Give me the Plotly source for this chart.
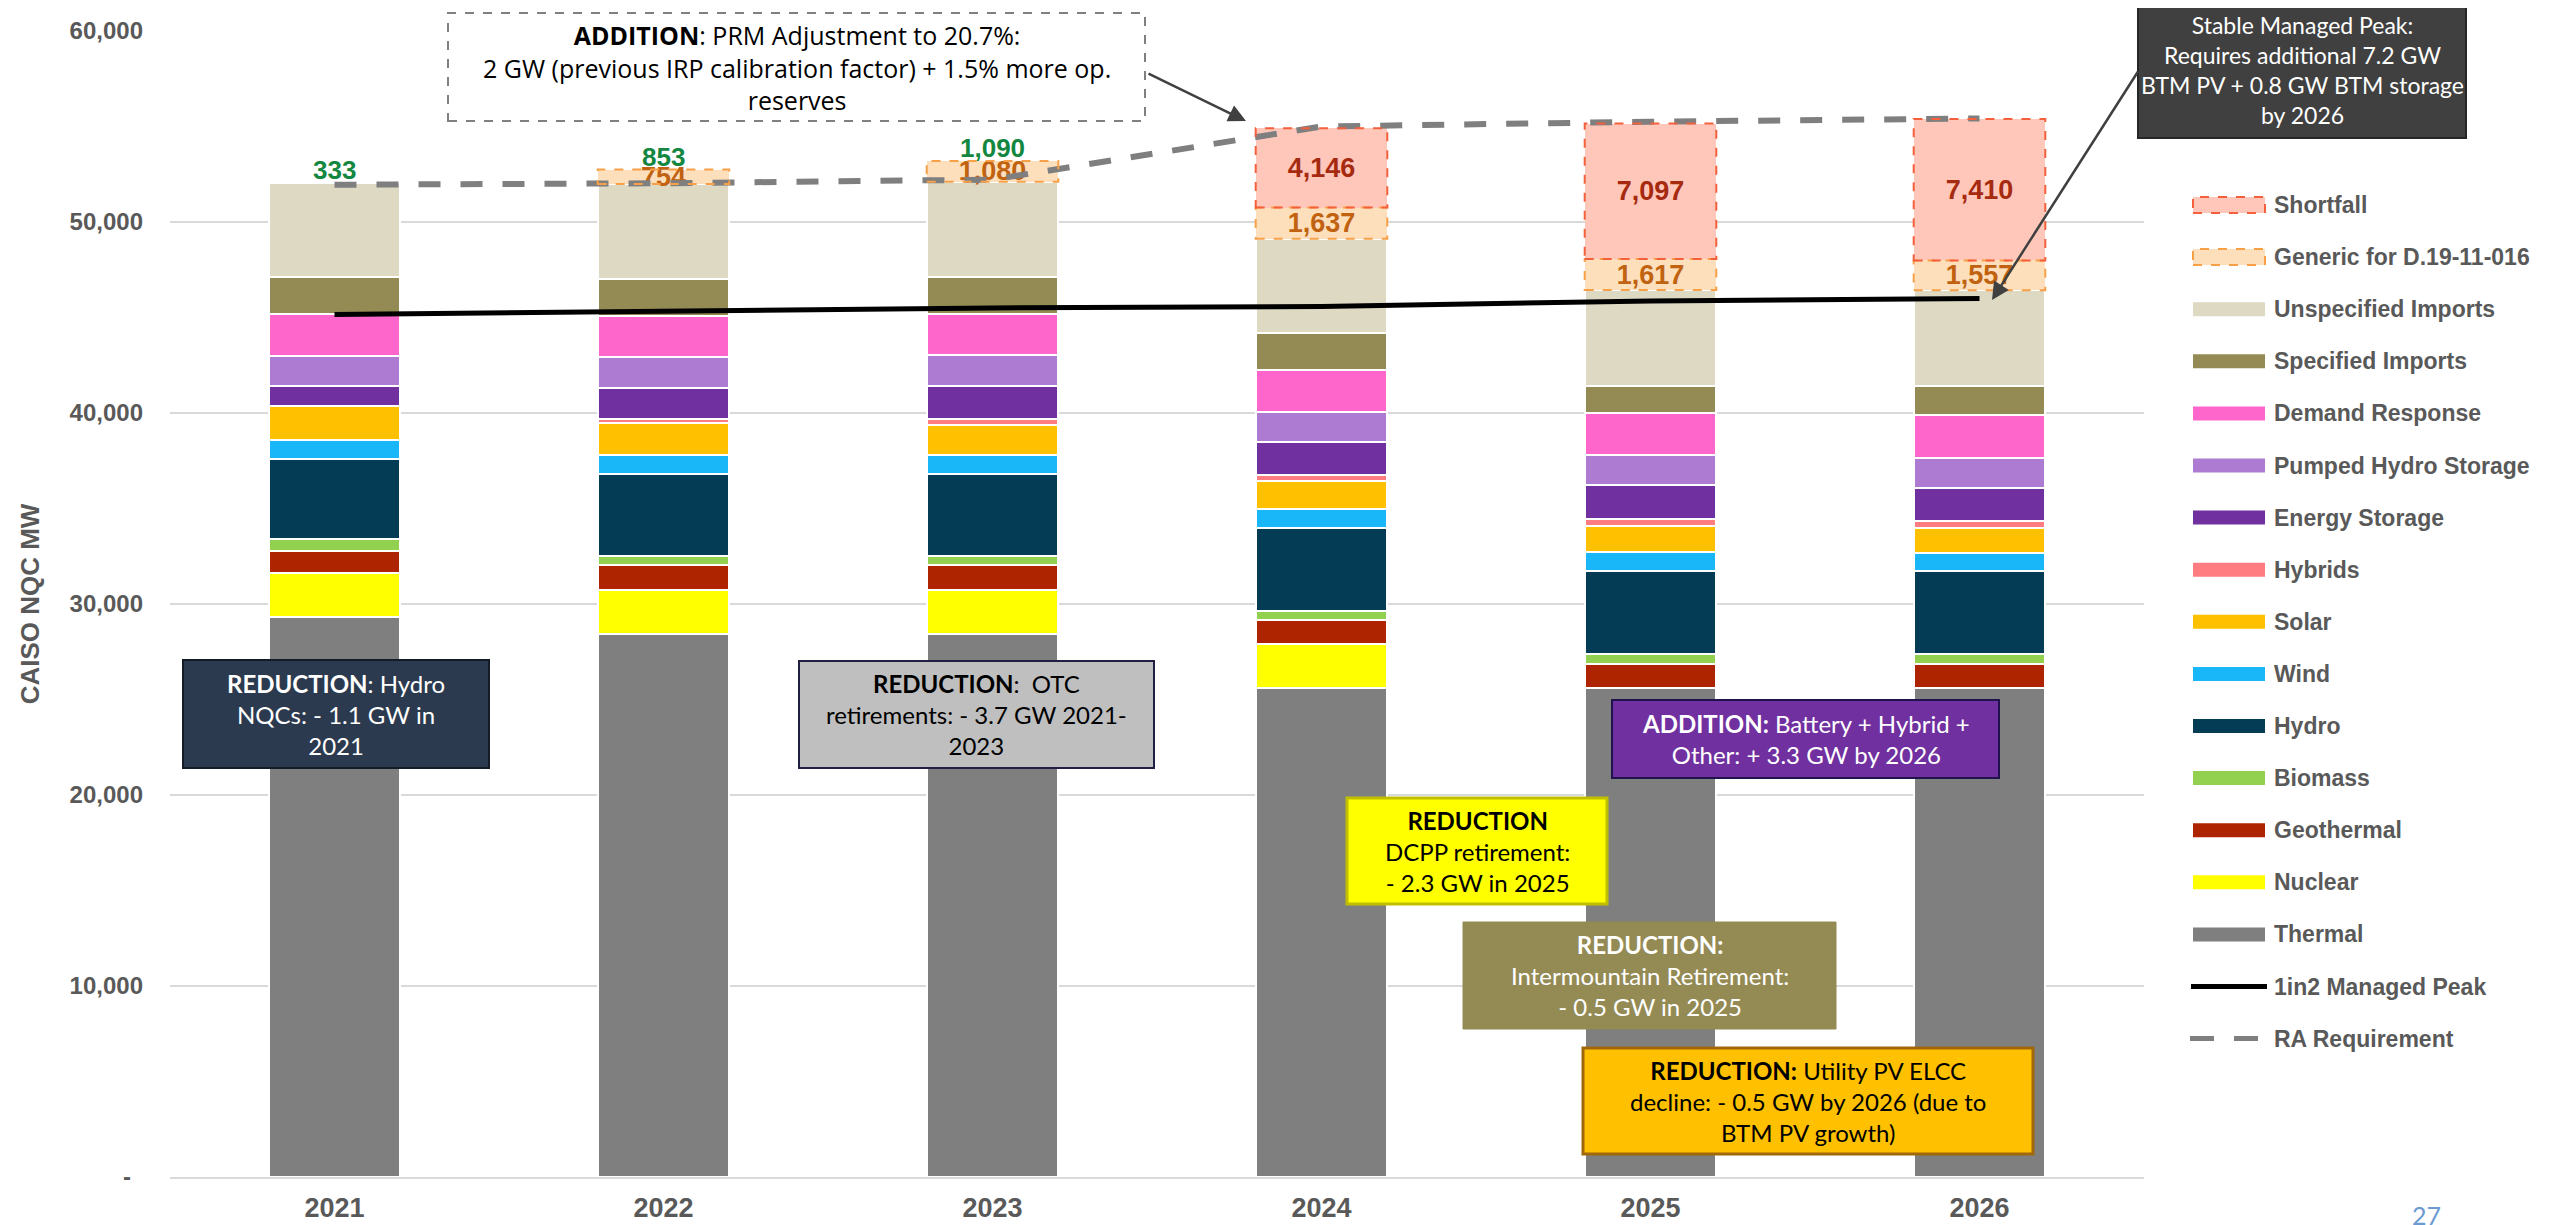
import plotly.graph_objects as go

# ---------------- data (MW) ----------------
years = ["2021", "2022", "2023", "2024", "2025", "2026"]
thermal = [29330, 28440, 28440, 25590, 25590, 25590]
nuclear = [2310, 2290, 2290, 2300, 0, 0]
geothermal = [1150, 1290, 1290, 1280, 1250, 1250]
biomass = [600, 510, 510, 480, 550, 550]
hydro = [4180, 4280, 4280, 4330, 4330, 4330]
wind = [1030, 980, 980, 1000, 1000, 950]
solar = [1750, 1680, 1590, 1450, 1380, 1300]
hybrids = [0, 200, 300, 300, 370, 370]
energy_storage = [1080, 1660, 1750, 1750, 1750, 1750]
pumped_hydro_storage = [1560, 1590, 1610, 1580, 1580, 1580]
demand_response = [2170, 2150, 2130, 2180, 2180, 2250]
specified_imports = [1960, 1940, 1960, 1950, 1450, 1500]
unspecified_imports = [4930, 4980, 4980, 4930, 5010, 5010]
generic_d19 = [0, 754, 1080, 1637, 1617, 1557]
shortfall = [0, 0, 0, 4146, 7097, 7410]
managed_peak_1in2 = [45160, 45330, 45500, 45570, 45870, 45990]
ra_requirement = [51950, 52030, 52220, 55000, 55250, 55420]
green_labels = [333, 853, 1090, None, None, None]

y_tick_values = [0, 10000, 20000, 30000, 40000, 50000, 60000]
y_tick_labels = ["-\u2002", "10,000", "20,000", "30,000", "40,000", "50,000", "60,000"]

stack_names = ["Thermal", "Nuclear", "Geothermal", "Biomass", "Hydro", "Wind", "Solar",
               "Hybrids", "Energy Storage", "Pumped Hydro Storage", "Demand Response",
               "Specified Imports", "Unspecified Imports"]
stack_values = [thermal, nuclear, geothermal, biomass, hydro, wind, solar, hybrids,
                energy_storage, pumped_hydro_storage, demand_response,
                specified_imports, unspecified_imports]
legend_order = ["Shortfall", "Generic for D.19-11-016", "Unspecified Imports",
                "Specified Imports", "Demand Response", "Pumped Hydro Storage",
                "Energy Storage", "Hybrids", "Solar", "Wind", "Hydro", "Biomass",
                "Geothermal", "Nuclear", "Thermal", "1in2 Managed Peak", "RA Requirement"]

# ---------------- styles ----------------
colors = {
    "Thermal": "#7F7F7F", "Nuclear": "#FFFF00", "Geothermal": "#AE2300",
    "Biomass": "#92D050", "Hydro": "#043B55", "Wind": "#19B7F7", "Solar": "#FFC000",
    "Hybrids": "#FF7C80", "Energy Storage": "#7030A0", "Pumped Hydro Storage": "#AD7CD2",
    "Demand Response": "#FF66CC", "Specified Imports": "#948A54",
    "Unspecified Imports": "#DDD9C3",
    "Generic for D.19-11-016": "#FDDFBC", "Shortfall": "#FFC7BA",
}
outline = {"Generic for D.19-11-016": "#F7A048", "Shortfall": "#F4603C"}
label_color = {"Generic for D.19-11-016": "#C0620F", "Shortfall": "#A52A10"}

W, H = 2560, 1225
L, R, T, B = 162, 424, 23, 56
PW, PH = W - L - R, H - T - B
BARGAP = 0.6
AXFONT = "Liberation Sans, Arial, sans-serif"
NARROW = "Liberation Sans Narrow, Arial Narrow, Liberation Sans, sans-serif"
BOXFONT = "Lato, Noto Sans, sans-serif"


def pxx(x):
    return (x - L) / PW


def pyy(y):
    return (T + PH - y) / PH


fig = go.Figure()

for name, vals in zip(stack_names, stack_values):
    fig.add_trace(go.Bar(x=years, y=vals, name=name, showlegend=False,
                         marker=dict(color=colors[name], line=dict(color="white", width=2))))

totals = [sum(v[i] for v in stack_values) for i in range(len(years))]

for name, vals in [("Generic for D.19-11-016", generic_d19), ("Shortfall", shortfall)]:
    fig.add_trace(go.Bar(
        x=years, y=vals, name=name, showlegend=False,
        marker=dict(color=colors[name], line=dict(width=0)),
        text=[f"{v:,}" if v else "" for v in vals], textposition="inside",
        insidetextanchor="middle", textangle=0,
        textfont=dict(family=NARROW, size=27, color=label_color[name], weight="bold")))

fig.add_trace(go.Scatter(x=years, y=managed_peak_1in2, name="1in2 Managed Peak", mode="lines",
                         showlegend=False, line=dict(color="black", width=5)))
fig.add_trace(go.Scatter(x=years, y=ra_requirement, name="RA Requirement", mode="lines",
                         showlegend=False,
                         line=dict(color="#7F7F7F", width=6, dash="22px,20px")))

shapes = []
annotations = []

# dashed outlines around the generic / shortfall segments (derived from data)
bw = 1 - BARGAP
for i in range(len(years)):
    base = totals[i]
    for name, vals in [("Generic for D.19-11-016", generic_d19), ("Shortfall", shortfall)]:
        v = vals[i]
        if v:
            shapes.append(dict(type="rect", xref="x", yref="y", x0=i - bw / 2, x1=i + bw / 2,
                               y0=base, y1=base + v, line=dict(color=outline[name], width=2, dash="dash"),
                               fillcolor="rgba(0,0,0,0)", layer="above"))
        base += v

# green labels on top of the stacks
for i, g in enumerate(green_labels):
    if g is not None:
        top = totals[i] + generic_d19[i] + shortfall[i]
        annotations.append(dict(x=i, y=top, xref="x", yref="y", text=f"<b>{g:,}</b>",
                                showarrow=False, yshift=13,
                                font=dict(family=NARROW, size=26, color="#13873F")))


def box(x0, y0, x1, y1, fill, border, bwid, txt, tcolor, size=24, dash=None, family=BOXFONT):
    shapes.append(dict(type="rect", xref="paper", yref="paper", x0=pxx(x0), x1=pxx(x1),
                       y0=pyy(y1), y1=pyy(y0), fillcolor=fill,
                       line=dict(color=border, width=bwid, dash=dash), layer="above"))
    annotations.append(dict(x=pxx((x0 + x1) / 2), y=pyy((y0 + y1) / 2), xref="paper", yref="paper",
                            xanchor="center", yanchor="middle", showarrow=False, align="center",
                            text=txt, font=dict(family=family, size=size, color=tcolor)))


box(440, 5, 1137, 113, "white", "#808080", 2,
    "<b>ADDITION</b>: PRM Adjustment to 20.7%:<br>2 GW (previous IRP calibration factor) + 1.5% more op.<br>reserves",
    "black", size=25, dash="dash", family="Open Sans, Lato, sans-serif")
box(2130, -5, 2458, 130, "#404040", "#262626", 2,
    "Stable Managed Peak:<br>Requires additional 7.2 GW<br>BTM PV + 0.8 GW BTM storage<br>by 2026",
    "white", size=23)
box(175, 652, 481, 760, "#2B3A4F", "#141C28", 2,
    "<b>REDUCTION</b>: Hydro<br>NQCs: - 1.1 GW in<br>2021", "white")
box(791, 653, 1146, 760, "#BFBFBF", "#1F2041", 2,
    "<b>REDUCTION</b>:  OTC<br>retirements: - 3.7 GW 2021-<br>2023", "black")
box(1339, 790, 1599, 896, "#FFFF00", "#BFBF00", 3,
    "<b>REDUCTION</b><br>DCPP retirement:<br>- 2.3 GW in 2025", "black")
box(1604, 692, 1991, 770, "#7030A0", "#20124D", 2,
    "<b>ADDITION:</b> Battery + Hybrid +<br>Other: + 3.3 GW by 2026", "white")
box(1455, 914, 1828, 1021, "#948A54", "#948A54", 1,
    "<b>REDUCTION:</b><br>Intermountain Retirement:<br>- 0.5 GW in 2025", "white")
box(1575, 1040, 2025, 1146, "#FFC000", "#A0680A", 3,
    "<b>REDUCTION:</b> Utility PV ELCC<br>decline: - 0.5 GW by 2026 (due to<br>BTM PV growth)", "black")

# arrows
for (hx, hy, tx, ty) in [(1238, 113, 1139, 65), (1984, 292, 2131, 62)]:
    annotations.append(dict(x=pxx(hx), y=pyy(hy), xref="paper", yref="paper", text="",
                            showarrow=True, ax=tx - hx, ay=ty - hy, arrowhead=2, arrowsize=1.4,
                            arrowwidth=2.5, arrowcolor="#404040", standoff=0))

# custom legend
for i, name in enumerate(legend_order):
    yc = 197 + 52.1 * i
    if name in ("Shortfall", "Generic for D.19-11-016"):
        shapes.append(dict(type="rect", xref="paper", yref="paper", x0=pxx(2185), x1=pxx(2257),
                           y0=pyy(yc + 8), y1=pyy(yc - 8), fillcolor=colors[name],
                           line=dict(color=outline[name], width=2, dash="dash")))
    elif name == "1in2 Managed Peak":
        shapes.append(dict(type="line", xref="paper", yref="paper", x0=pxx(2183), x1=pxx(2259),
                           y0=pyy(yc), y1=pyy(yc), line=dict(color="black", width=5)))
    elif name == "RA Requirement":
        shapes.append(dict(type="line", xref="paper", yref="paper", x0=pxx(2182), x1=pxx(2252),
                           y0=pyy(yc), y1=pyy(yc), line=dict(color="#7F7F7F", width=5, dash="24px,20px")))
    else:
        shapes.append(dict(type="rect", xref="paper", yref="paper", x0=pxx(2185), x1=pxx(2257),
                           y0=pyy(yc + 7), y1=pyy(yc - 7), fillcolor=colors[name],
                           line=dict(width=0)))
    annotations.append(dict(x=pxx(2264), y=pyy(yc), xref="paper", yref="paper", xanchor="left",
                            yanchor="middle", showarrow=False, text=f"<b>{name}</b>",
                            font=dict(family=AXFONT, size=23, color="#595959")))

# page number
annotations.append(dict(x=pxx(2418), y=pyy(1190), xref="paper", yref="paper", xanchor="center",
                        yanchor="top", showarrow=False, text="27",
                        font=dict(family=BOXFONT, size=25, color="#6C9BD2")))

fig.update_layout(
    template="none", width=W, height=H, barmode="stack", bargap=BARGAP,
    margin=dict(l=L, r=R, t=T, b=B, autoexpand=False),
    paper_bgcolor="white", plot_bgcolor="white", showlegend=False,
    shapes=shapes, annotations=annotations,
    font=dict(family=AXFONT, color="#595959"),
    xaxis=dict(type="category", range=[-0.5, 5.5], autorange=False,
               showgrid=False, showline=True, linecolor="#D9D9D9", linewidth=2,
               ticks="", ticklabelstandoff=6,
               tickfont=dict(family=AXFONT, size=27, color="#595959", weight="bold")),
    yaxis=dict(range=[0, 60000], autorange=False, tickvals=y_tick_values, ticktext=y_tick_labels,
               showgrid=True, gridcolor="#D9D9D9", gridwidth=2, zeroline=False, showline=False,
               ticks="", ticklabelstandoff=26,
               tickfont=dict(family=AXFONT, size=24, color="#595959", weight="bold"),
               title=dict(text="CAISO NQC MW", standoff=22,
                          font=dict(family=AXFONT, size=26, color="#595959", weight="bold"))),
)
fig.update_traces(selector=dict(type="bar"), constraintext="none", cliponaxis=False)

fig.write_html("out.html")
